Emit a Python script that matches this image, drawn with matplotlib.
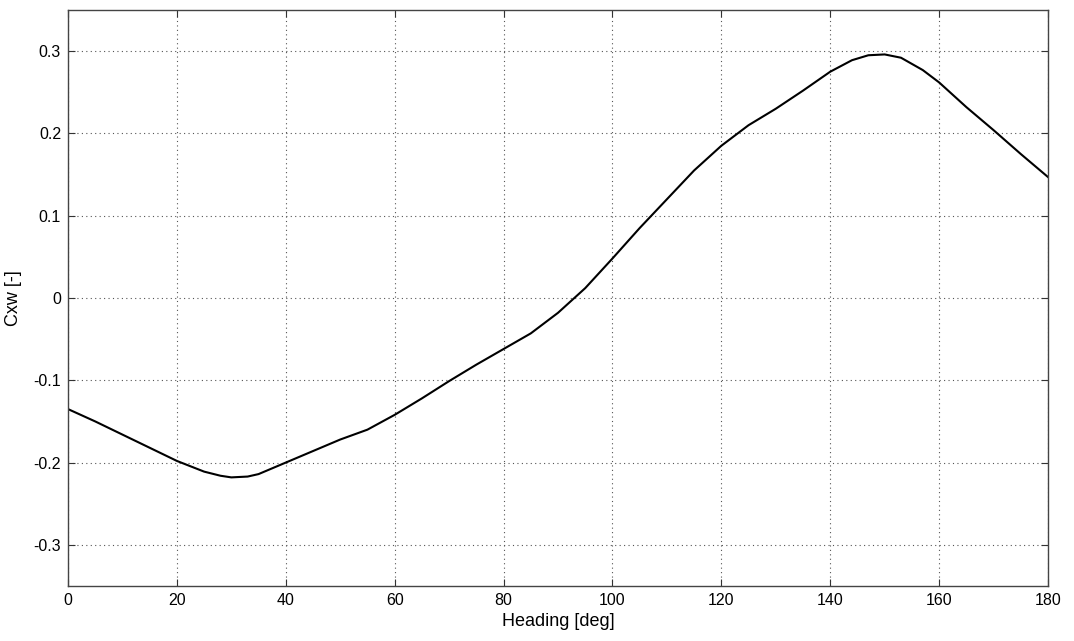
import matplotlib
matplotlib.use("Agg")
import matplotlib.pyplot as plt

heading = [0, 5, 10, 15, 20, 25, 28, 30, 33, 35, 40, 45, 50, 55, 60, 65, 70, 75, 80, 85, 90,
           95, 100, 105, 110, 115, 120, 125, 130, 135, 140, 144, 147, 150, 153, 157, 160, 165,
           170, 175, 180]
cxw = [-0.135, -0.150, -0.166, -0.182, -0.198, -0.211, -0.216, -0.218, -0.217, -0.214, -0.200, -0.186,
       -0.172, -0.160, -0.142, -0.122, -0.101, -0.081, -0.062, -0.043, -0.018,
       0.012, 0.048, 0.085, 0.120, 0.155, 0.185, 0.210, 0.230, 0.252, 0.275, 0.289, 0.295,
       0.296, 0.292, 0.277, 0.262, 0.232, 0.204, 0.175, 0.147]
xticks = [0, 20, 40, 60, 80, 100, 120, 140, 160, 180]
yticks = [-0.3, -0.2, -0.1, 0, 0.1, 0.2, 0.3]
ytick_labels = ["-0.3", "-0.2", "-0.1", "0", "0.1", "0.2", "0.3"]

plt.rcParams['font.family'] = ['Liberation Sans', 'DejaVu Sans']
fig = plt.figure(figsize=(10.74, 6.41), dpi=100)
ax = fig.add_axes([68/1074, 55/641, (1048-68)/1074, (586-10)/641])
ax.plot(heading, cxw, color='black', linewidth=1.5)
ax.set_xlim(0, 180)
ax.set_ylim(-0.35, 0.35)
ax.set_xticks(xticks)
ax.set_yticks(yticks)
ax.set_yticklabels(ytick_labels)
ax.grid(True, color='#555555', linestyle=(0, (1, 3)), linewidth=0.8)
ax.tick_params(direction='in', length=5, width=0.8, labelsize=11.5, color='#333333',
               top=True, right=True, pad=5)
for s in ax.spines.values():
    s.set_color('#444444')
    s.set_linewidth(1.0)
ax.set_xlabel('Heading [deg]', fontsize=13, labelpad=4)
ax.set_ylabel('Cxw [-]', fontsize=13, labelpad=8)
fig.savefig('out.png', dpi=100)
